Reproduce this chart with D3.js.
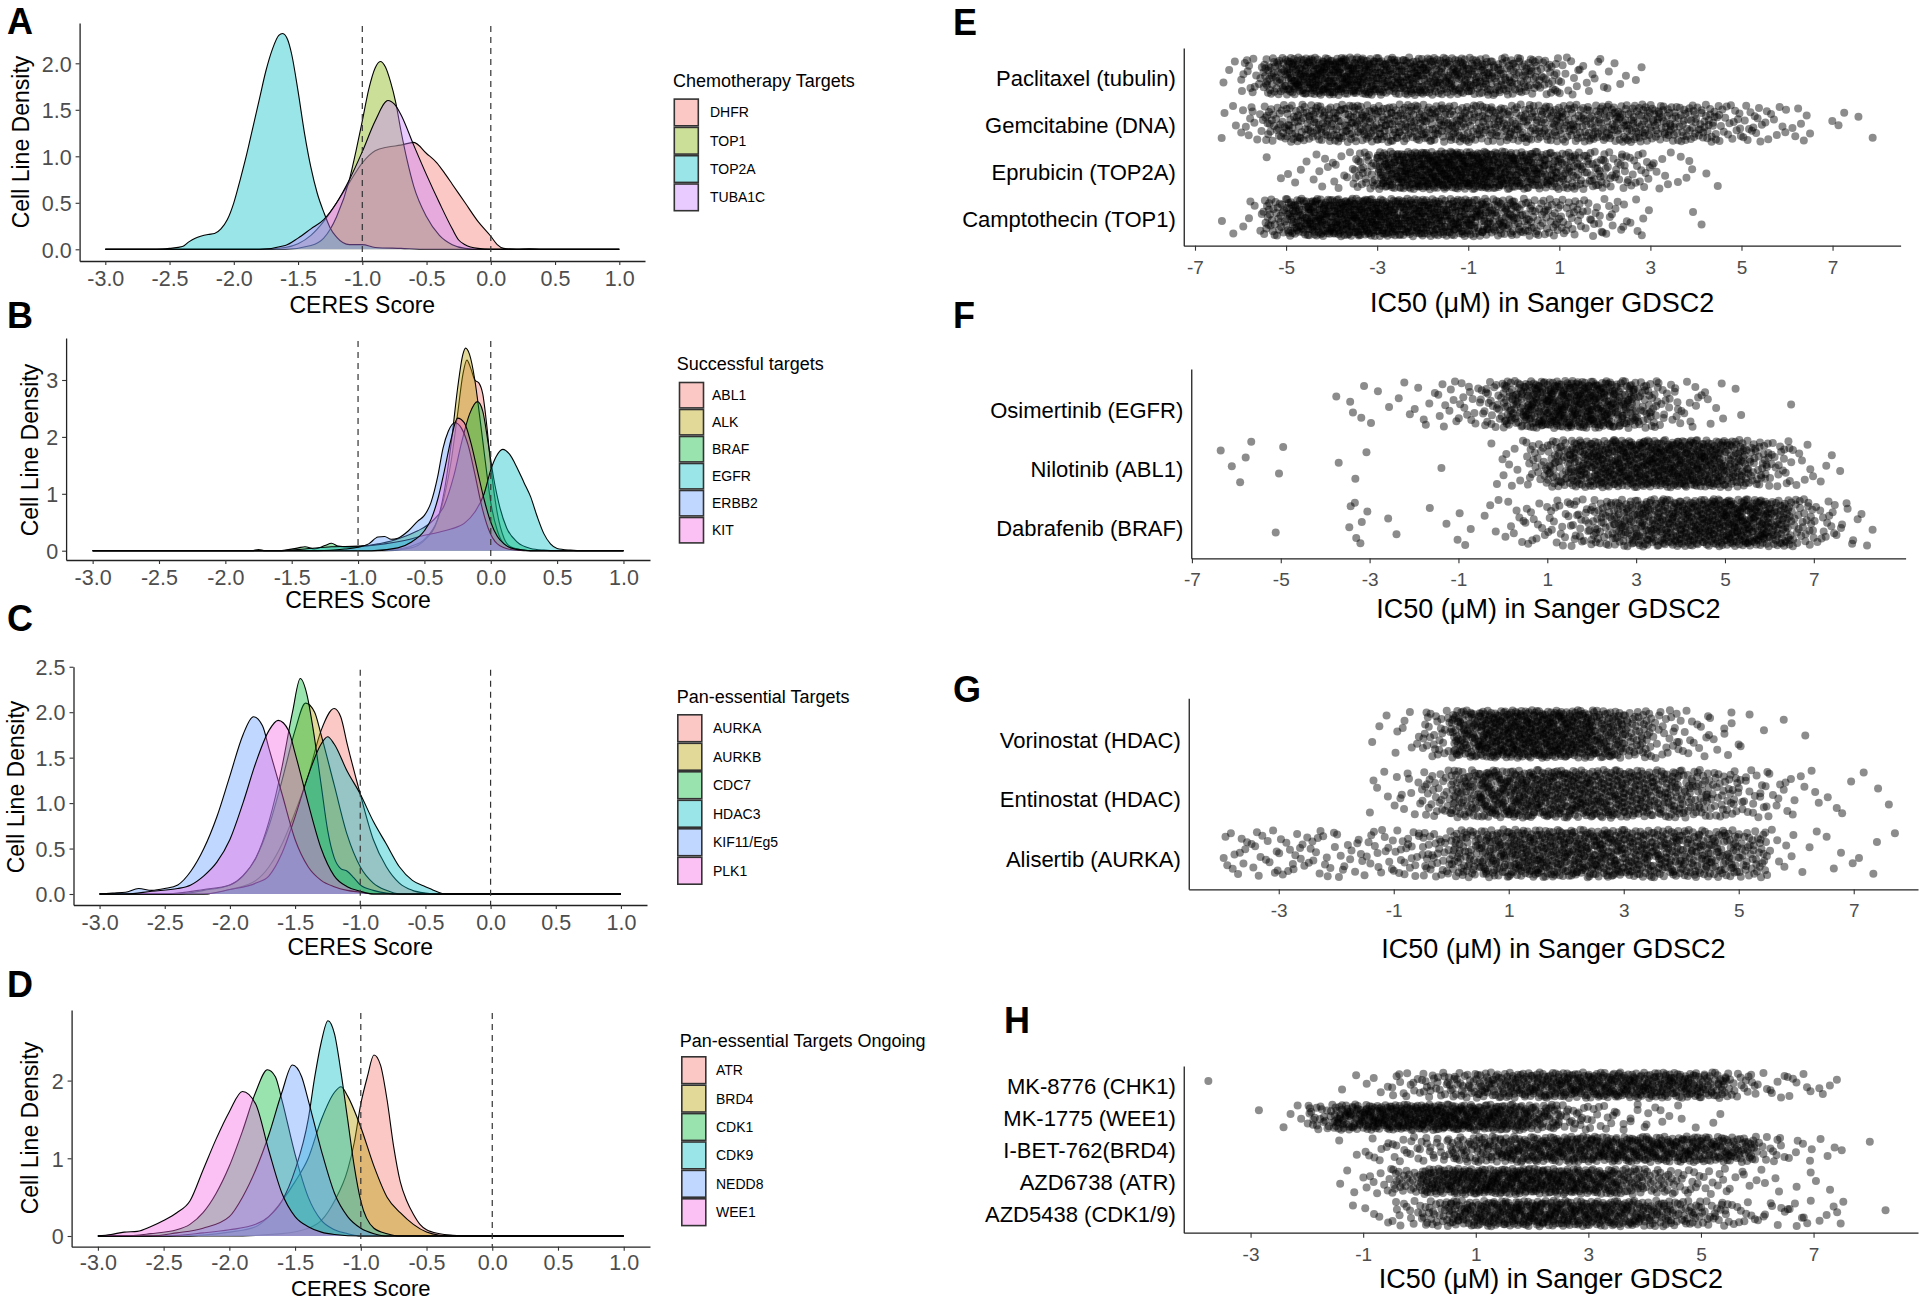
<!DOCTYPE html>
<html><head><meta charset="utf-8">
<script src="https://cdn.jsdelivr.net/npm/d3@7"></script>
<style>body{margin:0;background:#fff;} svg{display:block;background:#fff;}</style>
</head><body>
<svg id="c" width="1920" height="1300"></svg>
<script>
// ---------------- DATA: density panels (CERES score vs density) ----------------
const ceresTicks = [-3,-2.5,-2,-1.5,-1,-0.5,0,0.5,1];
const refLines = [-1, 0];

const genesA = ["DHFR","TOP1","TOP2A","TUBA1C"];
const curvesA = [
 [[-3,0],[-1.8,0],[-1.6,0.02],[-1.5,0.06],[-1.4,0.15],[-1.3,0.3],[-1.2,0.5],[-1.1,0.72],[-1.0,0.93],[-0.9,1.06],[-0.8,1.1],[-0.7,1.12],[-0.6,1.15],[-0.5,1.03],[-0.42,0.93],[-0.35,0.8],[-0.3,0.7],[-0.2,0.5],[-0.1,0.3],[0,0.14],[0.05,0.05],[0.1,0.01],[0.2,0],[0.3,0.005],[0.4,0],[1,0]],
 [[-3,0],[-1.6,0],[-1.4,0.04],[-1.3,0.12],[-1.2,0.35],[-1.1,0.75],[-1.05,1.05],[-1.0,1.38],[-0.95,1.72],[-0.9,1.95],[-0.86,2.02],[-0.82,1.96],[-0.78,1.8],[-0.74,1.58],[-0.7,1.28],[-0.65,0.95],[-0.6,0.68],[-0.5,0.35],[-0.4,0.15],[-0.3,0.05],[-0.2,0.01],[-0.1,0],[1,0]],
 [[-3,0],[-2.6,0],[-2.5,0.01],[-2.4,0.03],[-2.35,0.08],[-2.3,0.12],[-2.2,0.16],[-2.15,0.17],[-2.1,0.22],[-2.05,0.32],[-2.0,0.5],[-1.95,0.75],[-1.9,1.02],[-1.85,1.32],[-1.8,1.62],[-1.75,1.92],[-1.7,2.15],[-1.65,2.3],[-1.62,2.32],[-1.58,2.25],[-1.55,2.1],[-1.5,1.7],[-1.45,1.25],[-1.4,0.88],[-1.35,0.6],[-1.3,0.4],[-1.25,0.23],[-1.2,0.13],[-1.1,0.05],[-1.0,0.05],[-0.9,0.02],[-0.7,0.01],[-0.5,0],[1,0]],
 [[-3,0],[-1.8,0],[-1.6,0.04],[-1.5,0.12],[-1.4,0.22],[-1.3,0.32],[-1.2,0.5],[-1.1,0.75],[-1.0,1.05],[-0.9,1.38],[-0.8,1.6],[-0.75,1.56],[-0.7,1.45],[-0.6,1.12],[-0.5,0.8],[-0.4,0.5],[-0.3,0.22],[-0.25,0.1],[-0.2,0.05],[-0.1,0.01],[0,0],[1,0]]
];

const genesB = ["ABL1","ALK","BRAF","EGFR","ERBB2","KIT"];
const curvesB = [
 [[-3,0],[-0.9,0],[-0.7,0.03],[-0.6,0.08],[-0.5,0.2],[-0.4,0.55],[-0.35,0.95],[-0.3,1.55],[-0.25,2.4],[-0.21,3.1],[-0.18,3.35],[-0.15,3.2],[-0.12,3.0],[-0.09,2.95],[-0.06,2.75],[-0.03,2.2],[0,1.5],[0.05,0.65],[0.1,0.22],[0.15,0.07],[0.25,0.01],[0.3,0],[1,0]],
 [[-3,0],[-1.8,0],[-1.75,0.02],[-1.7,0],[-0.8,0],[-0.6,0.05],[-0.5,0.18],[-0.4,0.55],[-0.35,1.05],[-0.3,1.85],[-0.25,2.85],[-0.21,3.45],[-0.19,3.56],[-0.16,3.45],[-0.12,3.0],[-0.08,2.3],[-0.04,1.55],[0,0.85],[0.05,0.35],[0.1,0.12],[0.2,0.02],[0.3,0],[1,0]],
 [[-3,0],[-1.6,0],[-1.45,0.05],[-1.4,0.07],[-1.33,0.03],[-1.25,0.09],[-1.2,0.13],[-1.15,0.08],[-1.05,0.06],[-0.95,0.08],[-0.85,0.12],[-0.75,0.17],[-0.65,0.25],[-0.55,0.35],[-0.45,0.5],[-0.35,0.8],[-0.28,1.3],[-0.22,1.9],[-0.16,2.4],[-0.1,2.62],[-0.06,2.45],[-0.02,1.9],[0.02,1.3],[0.07,0.75],[0.12,0.4],[0.2,0.15],[0.3,0.04],[0.4,0.01],[0.5,0],[1,0]],
 [[-3,0],[-1.6,0],[-1.4,0.03],[-1.2,0.07],[-1.0,0.08],[-0.8,0.12],[-0.65,0.18],[-0.5,0.27],[-0.4,0.32],[-0.3,0.38],[-0.2,0.48],[-0.12,0.68],[-0.05,1.0],[0,1.42],[0.04,1.65],[0.09,1.78],[0.14,1.7],[0.2,1.45],[0.25,1.2],[0.3,0.95],[0.35,0.6],[0.4,0.3],[0.45,0.12],[0.5,0.04],[0.6,0.01],[0.7,0],[1,0]],
 [[-3,0],[-1.3,0],[-1.1,0.03],[-1.0,0.06],[-0.92,0.12],[-0.85,0.24],[-0.8,0.25],[-0.75,0.2],[-0.7,0.22],[-0.62,0.35],[-0.55,0.52],[-0.5,0.62],[-0.45,0.85],[-0.4,1.3],[-0.36,1.8],[-0.32,2.1],[-0.27,2.25],[-0.22,2.15],[-0.17,1.85],[-0.12,1.35],[-0.07,0.8],[-0.02,0.4],[0.05,0.12],[0.15,0.02],[0.25,0],[1,0]],
 [[-3,0],[-0.9,0],[-0.7,0.05],[-0.6,0.15],[-0.5,0.35],[-0.45,0.55],[-0.4,0.9],[-0.35,1.4],[-0.3,1.95],[-0.25,2.33],[-0.2,2.25],[-0.15,1.9],[-0.1,1.4],[-0.05,0.9],[0,0.5],[0.05,0.25],[0.1,0.12],[0.15,0.05],[0.25,0.01],[0.3,0],[1,0]]
];

const genesC = ["AURKA","AURKB","CDC7","HDAC3","KIF11/Eg5","PLK1"];
const curvesC = [
 [[-3,0],[-2.2,0],[-2.0,0.05],[-1.8,0.15],[-1.7,0.3],[-1.6,0.55],[-1.5,0.9],[-1.4,1.3],[-1.3,1.8],[-1.2,2.04],[-1.15,1.95],[-1.1,1.65],[-1.0,1.1],[-0.9,0.6],[-0.8,0.3],[-0.7,0.12],[-0.6,0.04],[-0.5,0.01],[-0.4,0],[1,0]],
 [[-3,0],[-2.4,0],[-2.2,0.04],[-2.0,0.1],[-1.9,0.2],[-1.8,0.4],[-1.7,0.75],[-1.6,1.25],[-1.5,1.8],[-1.42,2.1],[-1.35,2.0],[-1.3,1.75],[-1.2,1.2],[-1.1,0.65],[-1.0,0.3],[-0.9,0.12],[-0.8,0.04],[-0.7,0],[1,0]],
 [[-3,0],[-2.5,0],[-2.2,0.05],[-2.0,0.1],[-1.9,0.2],[-1.8,0.4],[-1.7,0.8],[-1.6,1.4],[-1.52,2.0],[-1.46,2.37],[-1.41,2.2],[-1.36,1.8],[-1.3,1.2],[-1.25,0.7],[-1.2,0.4],[-1.15,0.28],[-1.1,0.25],[-1.05,0.18],[-1.0,0.1],[-0.9,0.04],[-0.8,0.01],[-0.7,0],[1,0]],
 [[-3,0],[-2.2,0],[-2.0,0.05],[-1.8,0.12],[-1.7,0.2],[-1.6,0.45],[-1.5,0.85],[-1.4,1.3],[-1.3,1.65],[-1.25,1.73],[-1.2,1.65],[-1.1,1.35],[-1.0,1.1],[-0.9,0.8],[-0.8,0.55],[-0.7,0.3],[-0.6,0.15],[-0.5,0.08],[-0.45,0.05],[-0.4,0.02],[-0.35,0],[1,0]],
 [[-3,0],[-2.9,0.01],[-2.8,0.02],[-2.7,0.06],[-2.6,0.04],[-2.5,0.06],[-2.4,0.1],[-2.3,0.25],[-2.2,0.5],[-2.1,0.85],[-2.0,1.3],[-1.9,1.75],[-1.82,1.95],[-1.75,1.85],[-1.7,1.6],[-1.6,1.1],[-1.5,0.6],[-1.4,0.3],[-1.3,0.15],[-1.2,0.08],[-1.1,0.04],[-1.0,0.02],[-0.9,0],[1,0]],
 [[-3,0],[-2.8,0],[-2.6,0.03],[-2.4,0.06],[-2.3,0.1],[-2.2,0.2],[-2.1,0.35],[-2.0,0.6],[-1.9,1.0],[-1.8,1.45],[-1.7,1.8],[-1.63,1.91],[-1.55,1.8],[-1.5,1.55],[-1.4,1.0],[-1.3,0.5],[-1.2,0.2],[-1.1,0.08],[-1.0,0.03],[-0.9,0],[1,0]]
];

const genesD = ["ATR","BRD4","CDK1","CDK9","NEDD8","WEE1"];
const curvesD = [
 [[-3,0],[-2.0,0],[-1.6,0.03],[-1.4,0.1],[-1.3,0.2],[-1.2,0.45],[-1.1,0.85],[-1.05,1.2],[-1.0,1.7],[-0.95,2.05],[-0.9,2.33],[-0.85,2.2],[-0.8,1.75],[-0.75,1.15],[-0.7,0.7],[-0.65,0.45],[-0.6,0.28],[-0.55,0.15],[-0.5,0.08],[-0.4,0.03],[-0.3,0.01],[-0.2,0],[1,0]],
 [[-3,0],[-2.4,0],[-2.0,0.05],[-1.8,0.12],[-1.7,0.25],[-1.6,0.45],[-1.5,0.7],[-1.4,1.0],[-1.3,1.5],[-1.2,1.85],[-1.15,1.92],[-1.1,1.8],[-1.0,1.4],[-0.9,0.9],[-0.8,0.5],[-0.7,0.3],[-0.6,0.15],[-0.5,0.05],[-0.4,0.01],[-0.3,0],[1,0]],
 [[-3,0],[-2.8,0],[-2.6,0.03],[-2.4,0.08],[-2.3,0.15],[-2.2,0.3],[-2.1,0.55],[-2.0,0.9],[-1.9,1.35],[-1.8,1.85],[-1.71,2.14],[-1.65,2.05],[-1.6,1.75],[-1.5,1.05],[-1.4,0.5],[-1.3,0.2],[-1.2,0.08],[-1.1,0.03],[-1.0,0],[1,0]],
 [[-3,0],[-2.5,0],[-2.2,0.04],[-2.0,0.08],[-1.8,0.15],[-1.7,0.25],[-1.6,0.45],[-1.5,0.85],[-1.4,1.5],[-1.35,2.05],[-1.3,2.5],[-1.25,2.77],[-1.2,2.6],[-1.15,2.1],[-1.1,1.5],[-1.05,0.9],[-1.0,0.45],[-0.9,0.1],[-0.8,0.03],[-0.7,0],[1,0]],
 [[-3,0],[-2.6,0],[-2.4,0.04],[-2.2,0.1],[-2.0,0.25],[-1.9,0.5],[-1.8,0.85],[-1.7,1.3],[-1.6,1.85],[-1.52,2.2],[-1.45,2.05],[-1.4,1.75],[-1.3,1.1],[-1.2,0.55],[-1.1,0.25],[-1.0,0.1],[-0.9,0.03],[-0.8,0],[1,0]],
 [[-3,0],[-2.9,0.02],[-2.8,0.05],[-2.7,0.06],[-2.6,0.12],[-2.5,0.2],[-2.4,0.3],[-2.3,0.45],[-2.2,0.85],[-2.1,1.25],[-2.0,1.6],[-1.9,1.86],[-1.8,1.7],[-1.7,1.1],[-1.6,0.55],[-1.5,0.25],[-1.4,0.12],[-1.3,0.05],[-1.2,0.02],[-1.0,0],[1,0]]
];

// ---------------- DATA: IC50 jitter panels (cell lines per 0.5-unit IC50 bin) ----------------
const binWidth = 0.5;
const ticksEF = [-7,-5,-3,-1,1,3,5,7];
const ticksGH = [-3,-1,1,3,5,7];

const drugsE = ["Paclitaxel (tubulin)","Gemcitabine (DNA)","Eprubicin (TOP2A)","Camptothecin (TOP1)"];
const binStartE = [-6.5, -6.5, -5.5, -6.5];
const countsE = [
 [3,15,46,75,82,82,75,66,66,60,60,55,46,40,28,12,8,5,2],
 [4,12,28,40,44,44,46,46,44,44,44,40,40,40,40,40,40,44,44,40,35,30,18,14,10,6,2,2,2],
 [2,4,6,10,28,66,82,88,88,85,74,66,55,42,32,22,16,8,5,2],
 [2,6,34,66,82,86,88,82,78,74,70,62,50,38,30,22,16,11,6,0,1,1]
];

const drugsF = ["Osimertinib (EGFR)","Nilotinib (ABL1)","Dabrafenib (BRAF)"];
const binStartF = [-4, -6.5, -5.5];
const countsF = [
 [1,4,3,3,6,10,14,26,56,80,90,90,85,64,38,18,10,6,2,0,1],
 [2,3,1,1,0,1,2,0,0,0,1,0,3,8,22,46,70,80,85,88,90,88,80,62,38,20,8,3,1],
 [1,0,0,0,7,1,1,1,2,3,4,8,12,16,24,38,56,66,74,80,86,90,84,62,30,15,8,3]
];

const drugsG = ["Vorinostat (HDAC)","Entinostat (HDAC)","Alisertib (AURKA)"];
const binStartG = [-1.5, -1.5, -4];
const countsG = [
 [3,8,30,85,115,120,120,108,85,52,24,14,9,3,1,1],
 [5,12,30,64,88,92,92,92,88,78,68,52,36,22,12,5,4,2,1],
 [12,14,15,15,14,16,22,34,58,76,88,90,90,88,80,76,68,60,45,8,3,4,3,1]
];

const drugsH = ["MK-8776 (CHK1)","MK-1775 (WEE1)","I-BET-762(BRD4)","AZD6738 (ATR)","AZD5438 (CDK1/9)"];
const binStartH = [-4, -3, -1.5, -1.5, -1.5];
const countsH = [
 [1,0,0,0,0,2,4,12,20,28,40,48,52,55,56,56,55,52,40,16,8,7,4],
 [1,4,26,56,68,70,70,68,63,56,40,20,12,8,6,3,2],
 [2,8,12,16,30,42,50,54,56,56,56,56,54,50,40,13,6,3,2],
 [3,10,24,54,62,65,65,63,60,54,40,26,16,10,6,4,2,2],
 [1,4,12,26,46,56,60,60,59,56,50,42,30,22,10,8,8,5,1,1]
];

// ---------------- DRAWING ----------------
const svg = d3.select("#c");
const FONT = "'Liberation Sans', Arial, Helvetica, sans-serif";
const pal4 = ["#F8766D","#7CAE00","#00BFC4","#C77CFF"];
const pal6 = ["#F8766D","#B79F00","#00BA38","#00BFC4","#619CFF","#F564E3"];

function letter(t, x, y) {
  svg.append("text").attr("x", x).attr("y", y).text(t)
    .attr("font-family", FONT).attr("font-weight", "bold").attr("font-size", 36).attr("fill", "#000");
}

function styleAxis(ax, size, color) {
  ax.attr("font-family", null).attr("font-size", null);
  ax.select(".domain").attr("stroke", "#222").attr("stroke-width", 1.3);
  ax.selectAll(".tick line").attr("stroke", "#333").attr("stroke-width", 1.1);
  ax.selectAll(".tick text").attr("font-family", FONT).attr("font-size", size).attr("fill", color);
}

function densityPanel(p) {
  const g = svg.append("g");
  const x = d3.scaleLinear().domain([-3.2, 1.2]).range([p.left, p.right]);
  const y = d3.scaleLinear().domain([(p.y0 - p.bottom) / p.yPer, (p.y0 - p.top) / p.yPer]).range([p.bottom, p.top]);
  const area = d3.area().x(d => x(d[0])).y0(y(0)).y1(d => y(d[1])).curve(d3.curveMonotoneX);
  const line = d3.line().x(d => x(d[0])).y(d => y(d[1])).curve(d3.curveMonotoneX);
  p.curves.forEach((c, i) => {
    g.append("path").attr("d", area(c)).attr("fill", p.colors[i]).attr("fill-opacity", 0.4);
    g.append("path").attr("d", line(c)).attr("fill", "none").attr("stroke", "#000").attr("stroke-width", 1.1);
  });
  refLines.forEach(v => {
    g.append("line").attr("x1", x(v)).attr("x2", x(v)).attr("y1", p.top + 3).attr("y2", p.bottom)
      .attr("stroke", "#333").attr("stroke-width", 1.2).attr("stroke-dasharray", "6,5");
  });
  const xa = g.append("g").attr("transform", `translate(0,${p.bottom})`)
    .call(d3.axisBottom(x).tickValues(ceresTicks).tickFormat(d => d.toFixed(1)).tickSize(4).tickSizeOuter(0));
  styleAxis(xa, 21.5, "#4D4D4D");
  xa.selectAll(".tick text").attr("dy", null).attr("y", p.tickY);
  const ya = g.append("g").attr("transform", `translate(${p.left},0)`)
    .call(d3.axisLeft(y).tickValues(p.yTicks).tickFormat(p.yFmt).tickSize(4).tickSizeOuter(0));
  styleAxis(ya, 21.5, "#4D4D4D");
  ya.selectAll(".tick text").attr("x", -8).attr("dy", "0.36em");
  g.append("text").text("CERES Score").attr("x", (p.left + p.right) / 2).attr("y", p.titleY)
    .attr("text-anchor", "middle").attr("font-family", FONT).attr("font-size", p.titleSize).attr("fill", "#000");
  g.append("text").text("Cell Line Density").attr("transform", `translate(${p.ytX},${p.ytY}) rotate(-90)`)
    .attr("text-anchor", "middle").attr("font-family", FONT).attr("font-size", 23).attr("fill", "#000");
  const L = p.legend;
  g.append("text").text(L.title).attr("x", L.x).attr("y", L.titleY)
    .attr("font-family", FONT).attr("font-size", 18).attr("fill", "#000");
  p.genes.forEach((gn, i) => {
    const yy = L.keyTop + i * L.keyH;
    g.append("rect").attr("x", L.keyX + 0.8).attr("y", yy + 0.8).attr("width", 24).attr("height", L.keyH - 1.6)
      .attr("fill", p.colors[i]).attr("fill-opacity", 0.4).attr("stroke", "#333").attr("stroke-width", 1.6);
    g.append("text").text(gn).attr("x", L.labelX).attr("y", yy + L.keyH / 2 + 5)
      .attr("font-family", FONT).attr("font-size", 14).attr("fill", "#000");
  });
}

// deterministic low-discrepancy placement inside each bin (stands in for ggplot's jitter)
function halton(i, b) { let f = 1, r = 0; while (i > 0) { f /= b; r += f * (i % b); i = Math.floor(i / b); } return r; }

function jitterPanel(p) {
  const g = svg.append("g");
  const x = d3.scaleLinear().domain(p.dom).range([p.left, p.right]);
  const y = d3.scalePoint().domain(p.drugs).range([p.top, p.bottom]).padding(0.6);
  const pts = [];
  p.drugs.forEach((dr, i) => {
    let n = 1 + i * 977;
    p.counts[i].forEach((c, j) => {
      for (let k = 0; k < c; k++, n++) {
        pts.push({ v: p.starts[i] + binWidth * j + binWidth * halton(n, 2), drug: dr, off: halton(n, 3) - 0.5 });
      }
    });
  });
  g.append("g").selectAll("circle").data(pts).join("circle")
    .attr("cx", d => x(d.v)).attr("cy", d => y(d.drug) + d.off * 0.8 * y.step())
    .attr("r", 4).attr("fill", "#000").attr("fill-opacity", 0.45);
  const xa = g.append("g").attr("transform", `translate(0,${p.bottom})`)
    .call(d3.axisBottom(x).tickValues(p.ticks).tickFormat(d => String(d)).tickSize(5).tickSizeOuter(0));
  styleAxis(xa, 19, "#4D4D4D");
  xa.selectAll(".tick text").attr("dy", null).attr("y", 28);
  const ya = g.append("g").attr("transform", `translate(${p.left},0)`)
    .call(d3.axisLeft(y).tickSize(0).tickSizeOuter(0));
  styleAxis(ya, 22, "#000");
  ya.selectAll(".tick text").attr("x", -8).attr("dy", null).attr("y", p.labelOff + 8);
  g.append("text").text("IC50 (\u03BCM) in Sanger GDSC2").attr("x", (p.left + p.right) / 2).attr("y", p.titleY)
    .attr("text-anchor", "middle").attr("font-family", FONT).attr("font-size", 27).attr("fill", "#000");
}

densityPanel({ genes: genesA, curves: curvesA, colors: pal4, left: 79.6, right: 645, top: 23, bottom: 261,
  y0: 249.3, yPer: 93, yTicks: [0,0.5,1,1.5,2], yFmt: d => d.toFixed(1), tickY: 25, titleY: 312.7, titleSize: 23, ytX: 29, ytY: 142,
  legend: { title: "Chemotherapy Targets", x: 673, titleY: 87, keyX: 673.5, keyTop: 98.3, keyH: 28.3, labelX: 710 } });
densityPanel({ genes: genesB, curves: curvesB, colors: pal6, left: 66.1, right: 650, top: 338, bottom: 560,
  y0: 550.7, yPer: 56.9, yTicks: [0,1,2,3], yFmt: d => String(d), tickY: 25, titleY: 608, titleSize: 23, ytX: 38, ytY: 450,
  legend: { title: "Successful targets", x: 676.7, titleY: 370, keyX: 678.7, keyTop: 381.7, keyH: 27, labelX: 712 } });
densityPanel({ genes: genesC, curves: curvesC, colors: pal6, left: 73.5, right: 647, top: 666.7, bottom: 905,
  y0: 894, yPer: 90.9, yTicks: [0,0.5,1,1.5,2,2.5], yFmt: d => d.toFixed(1), tickY: 25, titleY: 955, titleSize: 23, ytX: 24, ytY: 787,
  legend: { title: "Pan-essential Targets", x: 676.7, titleY: 703, keyX: 677, keyTop: 714, keyH: 28.5, labelX: 713 } });
densityPanel({ genes: genesD, curves: curvesD, colors: pal6, left: 71.6, right: 650, top: 1010, bottom: 1246.7,
  y0: 1236, yPer: 77.7, yTicks: [0,1,2], yFmt: d => String(d), tickY: 23, titleY: 1295.5, titleSize: 22, ytX: 38, ytY: 1128,
  legend: { title: "Pan-essential Targets Ongoing", x: 679.7, titleY: 1046.7, keyX: 681, keyTop: 1056, keyH: 28.4, labelX: 716 } });

jitterPanel({ drugs: drugsE, starts: binStartE, counts: countsE, dom: [-7.247, 8.494], left: 1183.75, right: 1900.6,
  top: 48, bottom: 245.7, ticks: ticksEF, labelOff: 1, titleY: 311.7 });
jitterPanel({ drugs: drugsF, starts: binStartF, counts: countsF, dom: [-7.015, 9.066], left: 1191.25, right: 1905.6,
  top: 369, bottom: 558.3, ticks: ticksEF, labelOff: 5, titleY: 618 });
jitterPanel({ drugs: drugsG, starts: binStartG, counts: countsG, dom: [-4.565, 8.118], left: 1188.75, right: 1918,
  top: 698.3, bottom: 889.3, ticks: ticksGH, labelOff: 5, titleY: 958.3 });
jitterPanel({ drugs: drugsH, starts: binStartH, counts: countsH, dom: [-4.187, 8.855], left: 1183.75, right: 1918,
  top: 1066, bottom: 1232.7, ticks: ticksGH, labelOff: 0, titleY: 1288.3 });

letter("A", 7, 34); letter("B", 7, 328); letter("C", 7, 631); letter("D", 7, 997);
letter("E", 953, 35); letter("F", 953, 328); letter("G", 953, 702); letter("H", 1004, 1033);
</script>
</body></html>
